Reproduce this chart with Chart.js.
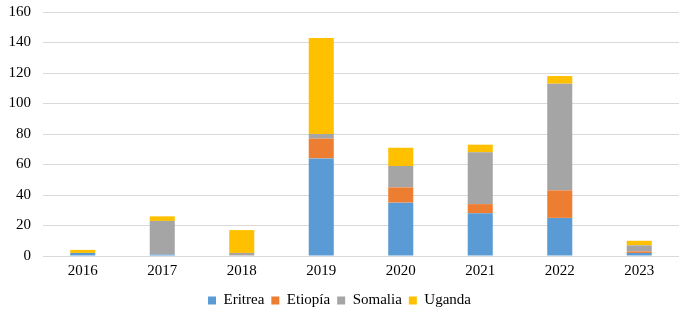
<!DOCTYPE html>
<html>
<head>
<meta charset="utf-8">
<script src="https://cdn.jsdelivr.net/npm/chart.js@4/dist/chart.umd.min.js"></script>
<style>
  html, body { margin: 0; padding: 0; background: #fff; }
  #wrap { width: 685px; height: 318px; position: relative; }
</style>
</head>
<body>
<div id="wrap"><canvas id="c" width="685" height="318"></canvas></div>
<script>
const categories = ['2016', '2017', '2018', '2019', '2020', '2021', '2022', '2023'];
const eritrea  = [2, 1, 0, 64, 35, 28, 25, 2];
const etiopia  = [0, 0, 0, 13, 10, 6, 18, 1];
const somalia  = [0, 22, 2, 3, 14, 34, 70, 4];
const uganda   = [2, 3, 15, 63, 12, 5, 5, 3];
const yTicks = [0, 20, 40, 60, 80, 100, 120, 140, 160];

const serif = "'Liberation Serif', 'Times New Roman', serif";
Chart.defaults.font.family = serif;
Chart.defaults.font.size = 15;
Chart.defaults.color = '#000';

function ds(label, data, color) {
  return {
    label, data,
    backgroundColor: color,
    borderWidth: 0,
    barPercentage: 0.63,
    categoryPercentage: 0.5
  };
}

new Chart(document.getElementById('c'), {
  type: 'bar',
  data: {
    labels: categories,
    datasets: [
      ds('Eritrea', eritrea, '#5B9BD5'),
      ds('Etiopía', etiopia, '#ED7D31'),
      ds('Somalia', somalia, '#A5A5A5'),
      ds('Uganda', uganda, '#FFC000')
    ]
  },
  options: {
    responsive: false,
    animation: false,
    layout: { padding: { top: 12, right: 6, left: 0, bottom: 0 } },
    plugins: {
      legend: {
        position: 'bottom',
        labels: {
          boxWidth: 8, boxHeight: 8, padding: 7,
          font: { family: serif, size: 15 }
        }
      },
      tooltip: { enabled: false }
    },
    scales: {
      x: {
        stacked: true,
        grid: { display: false, drawTicks: false },
        border: { display: false },
        ticks: { padding: 6, font: { family: serif, size: 15 } }
      },
      y: {
        stacked: true,
        min: 0, max: 160,
        afterFit(scale) { scale.width = 43; scale.paddingTop = 0; scale.paddingBottom = 0; },
        afterBuildTicks(scale) { scale.ticks = yTicks.map(v => ({ value: v })); },
        grid: { color: '#D9D9D9', lineWidth: 1, drawTicks: false },
        border: { display: false },
        ticks: { padding: 12, font: { family: serif, size: 15 } }
      }
    }
  }
});
</script>
</body>
</html>
